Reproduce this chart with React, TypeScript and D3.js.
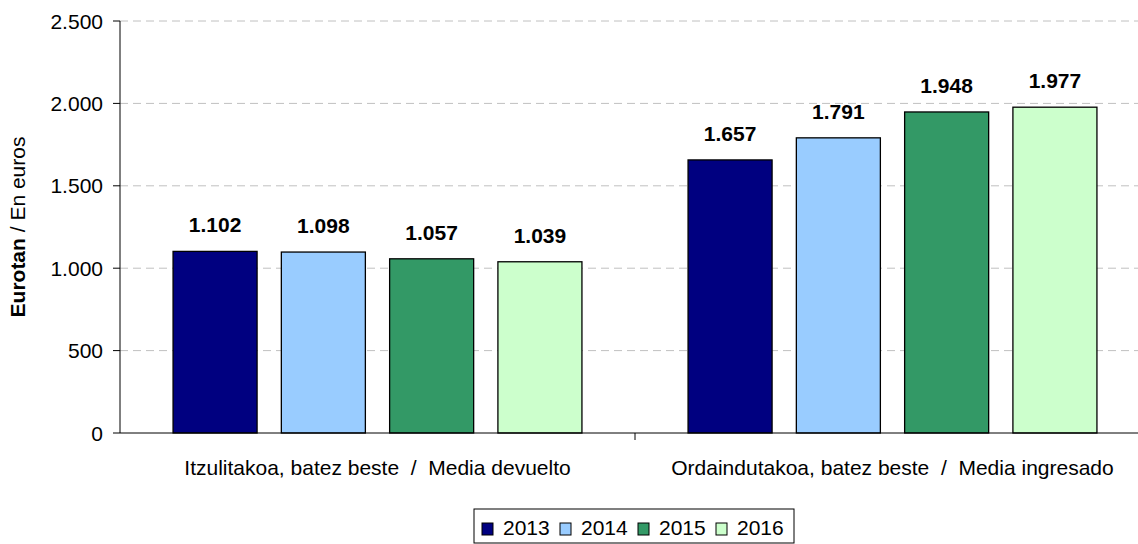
import React from "react";
import * as d3 from "d3";

const categories = [
  "Itzulitakoa, batez beste  /  Media devuelto",
  "Ordaindutakoa, batez beste  /  Media ingresado",
];
const years = ["2013", "2014", "2015", "2016"];
const values: number[][] = [
  [1102, 1098, 1057, 1039],
  [1657, 1791, 1948, 1977],
];
const colors = ["#000080", "#99CCFF", "#339966", "#CCFFCC"];
const yTicks = [0, 500, 1000, 1500, 2000, 2500];

const W = 1138;
const H = 544;
const left = 120;
const right = 1150;
const top = 21;
const bottom = 433;

const fmt = (v: number) => d3.format(",")(v).replace(/,/g, ".");

export default function App() {
  const y = d3.scaleLinear().domain([0, 2500]).range([bottom, top]);
  const x0 = d3.scaleBand().domain(categories).range([left, right]).paddingInner(0).paddingOuter(0);
  const x1 = d3.scaleBand().domain(years).range([0, x0.bandwidth()]).paddingInner(0.224).paddingOuter(0.49);
  const font = "'Liberation Sans', Arial, sans-serif";
  const legX = 474, legY = 509, legW = 320, legH = 34;
  return (
    <svg width={W} height={H} style={{ position: "absolute", left: 0, top: 0 }} fontFamily={font}>
      <rect width={W} height={H} fill="#fff" />
      {yTicks.filter((t) => t > 0).map((t) => (
        <line key={t} x1={left} x2={W} y1={y(t)} y2={y(t)} stroke="#c0c0c0" strokeDasharray="8,5" />
      ))}
      {categories.map((c, ci) =>
        years.map((yr, yi) => {
          const v = values[ci][yi];
          const bx = (x0(c) ?? 0) + (x1(yr) ?? 0);
          return (
            <g key={c + yr}>
              <rect x={bx} y={y(v)} width={x1.bandwidth()} height={bottom - y(v)} fill={colors[yi]} stroke="#000" strokeWidth={1.3} />
              <text x={bx + x1.bandwidth() / 2} y={y(v) - 19} textAnchor="middle" fontWeight="bold" fontSize={21}>
                {fmt(v)}
              </text>
            </g>
          );
        })
      )}
      <line x1={left} x2={left} y1={top} y2={bottom} stroke="#000" />
      <line x1={left} x2={W} y1={bottom} y2={bottom} stroke="#000" />
      {yTicks.map((t) => (
        <g key={t}>
          <line x1={left - 7} x2={left} y1={y(t)} y2={y(t)} stroke="#000" />
          <text x={left - 17} y={y(t) + 7.5} textAnchor="end" fontSize={21}>
            {fmt(t)}
          </text>
        </g>
      ))}
      {categories.map((c) => (
        <g key={c}>
          <line x1={x0(c)! + x0.bandwidth()} x2={x0(c)! + x0.bandwidth()} y1={bottom} y2={bottom + 7} stroke="#000" />
          <text x={x0(c)! + x0.bandwidth() / 2} y={475} textAnchor="middle" fontSize={21} style={{ whiteSpace: "pre" }}>
            {c}
          </text>
        </g>
      ))}
      <text transform={`translate(25,${(top + bottom) / 2}) rotate(-90)`} textAnchor="middle" fontSize={21}>
        <tspan fontWeight="bold">Eurotan</tspan>
        <tspan> / En euros</tspan>
      </text>
      <rect x={legX} y={legY} width={legW} height={legH} fill="#fff" stroke="#000" />
      {years.map((yr, i) => {
        const lx = legX + 8 + i * 78;
        return (
          <g key={yr}>
            <rect x={lx} y={legY + 14} width={11} height={12} fill={colors[i]} stroke="#000" />
            <text x={lx + 21} y={legY + 26} fontSize={21}>
              {yr}
            </text>
          </g>
        );
      })}
    </svg>
  );
}
